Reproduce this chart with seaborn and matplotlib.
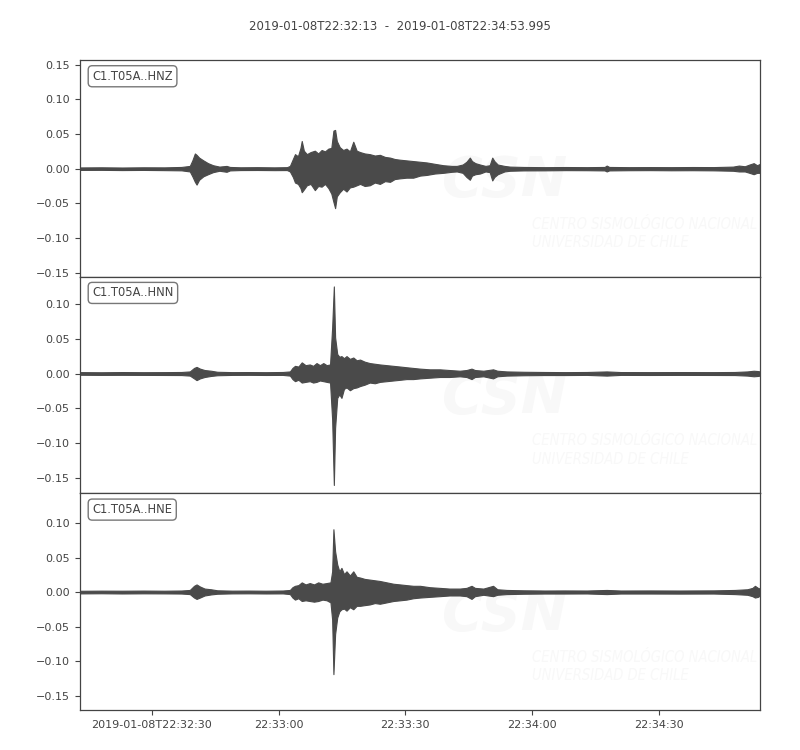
import numpy as np
import pandas as pd
import matplotlib
matplotlib.use("Agg")
import matplotlib.pyplot as plt
import seaborn as sns

# --- data (seconds after 2019-01-08T22:32:13, envelope) ---
start = np.datetime64("2019-01-08T22:32:13.000")
end = np.datetime64("2019-01-08T22:34:53.995")

hnz_t = [0, 5, 10, 15, 20, 24, 26, 26.6, 27.2, 27.6, 28.2, 29.2, 30.3, 31.5, 33, 34.7, 35.5,
         38, 42, 46, 49, 49.7, 50.4, 50.9, 51.6, 52.2, 52.5, 53.0, 53.7, 54.6, 55.6, 56.4,
         57.2, 58.0, 58.8, 59.5, 60.0, 60.4, 60.8, 61.5, 62.3, 63.1, 63.9, 64.7, 65.5, 66.3,
         67.4, 68.6, 69.8, 71.0, 72.2, 73.4, 74.5, 75.7, 77.3, 78.9, 80.5, 82.1, 84, 86.0,
         88, 89.2, 90.6, 91.5, 92.3, 92.8, 93.6, 94.7, 96, 97.0, 97.6, 98.1, 98.9, 100.5,
         101.8, 105, 110, 115, 120, 124.2, 124.7, 125.3, 130, 135, 140, 145, 150, 154.6,
         156, 157.4, 158.5, 159.5, 160.3, 161]
hnz_hi = [0.0018, 0.002, 0.0017, 0.002, 0.0019, 0.0025, 0.004, 0.012, 0.022, 0.020, 0.016,
          0.012, 0.008, 0.005, 0.003, 0.004, 0.0025, 0.002, 0.0022, 0.0019, 0.0022, 0.004,
          0.014, 0.021, 0.018, 0.030, 0.040, 0.026, 0.021, 0.024, 0.026, 0.022, 0.027, 0.025,
          0.029, 0.030, 0.055, 0.056, 0.040, 0.031, 0.027, 0.029, 0.025, 0.039, 0.026, 0.024,
          0.022, 0.021, 0.019, 0.020, 0.017, 0.016, 0.014, 0.013, 0.012, 0.011, 0.010, 0.009,
          0.007, 0.005, 0.004, 0.004, 0.006, 0.010, 0.016, 0.011, 0.008, 0.006, 0.004, 0.005,
          0.016, 0.011, 0.006, 0.004, 0.003, 0.0025, 0.0022, 0.0024, 0.0022, 0.0025, 0.0045,
          0.0025, 0.0022, 0.0023, 0.0022, 0.0024, 0.0023, 0.003, 0.0045, 0.0035, 0.006, 0.008,
          0.005, 0.007]
hnz_lo = [-0.0018, -0.0017, -0.002, -0.0018, -0.0021, -0.0024, -0.004, -0.011, -0.019,
          -0.023, -0.016, -0.011, -0.008, -0.005, -0.003, -0.0045, -0.0025, -0.002, -0.0019,
          -0.0021, -0.002, -0.004, -0.012, -0.020, -0.022, -0.028, -0.034, -0.030, -0.024,
          -0.022, -0.031, -0.025, -0.026, -0.022, -0.028, -0.036, -0.048, -0.057, -0.040,
          -0.034, -0.029, -0.033, -0.027, -0.026, -0.024, -0.022, -0.025, -0.024, -0.020,
          -0.022, -0.018, -0.019, -0.015, -0.014, -0.013, -0.013, -0.010, -0.009, -0.007,
          -0.006, -0.0045, -0.004, -0.006, -0.012, -0.016, -0.010, -0.008, -0.007, -0.004,
          -0.005, -0.017, -0.012, -0.008, -0.004, -0.003, -0.0025, -0.0024, -0.0021, -0.0022,
          -0.0025, -0.004, -0.0025, -0.0022, -0.0021, -0.0023, -0.0022, -0.0024, -0.003,
          -0.004, -0.004, -0.006, -0.008, -0.006, -0.006]

hnn_t = [0, 5, 10, 15, 20, 24, 26, 27, 27.6, 28.4, 29.5, 31, 32.5, 36, 40, 44, 48, 49.7,
         50.3, 50.9, 51.7, 52.5, 53.4, 54.4, 55.2, 56.0, 56.8, 57.6, 58.4, 59.2, 59.7, 60.1,
         60.4, 60.9, 61.4, 61.9, 62.5, 63.1, 63.9, 64.7, 65.5, 66.3, 67.4, 68.6, 69.8, 71.0,
         72.6, 74.2, 75.8, 77.3, 78.9, 80.5, 82.8, 85.2, 87.5, 89.9, 91.5, 92.7, 93.5, 95.5,
         97.8, 98.8, 101, 105, 110, 115, 120, 124.7, 128, 135, 142, 150, 155, 158, 159.5,
         160.5, 161]
hnn_hi = [0.002, 0.0018, 0.0021, 0.0019, 0.002, 0.0022, 0.003, 0.008, 0.0095, 0.007, 0.005,
          0.004, 0.0025, 0.002, 0.0021, 0.0019, 0.0022, 0.003, 0.008, 0.011, 0.010, 0.016,
          0.012, 0.013, 0.011, 0.015, 0.012, 0.015, 0.012, 0.013, 0.066, 0.125, 0.052, 0.028,
          0.024, 0.025, 0.022, 0.025, 0.021, 0.023, 0.019, 0.020, 0.017, 0.015, 0.014, 0.013,
          0.012, 0.011, 0.010, 0.009, 0.008, 0.007, 0.006, 0.006, 0.005, 0.004, 0.005, 0.007,
          0.005, 0.004, 0.006, 0.004, 0.003, 0.0025, 0.0022, 0.002, 0.0022, 0.003, 0.0021,
          0.002, 0.0021, 0.002, 0.0022, 0.003, 0.004, 0.0035, 0.003]
hnn_lo = [-0.0018, -0.002, -0.0019, -0.002, -0.0021, -0.0022, -0.003, -0.007, -0.0095,
          -0.007, -0.005, -0.0035, -0.0025, -0.002, -0.0019, -0.0021, -0.002, -0.003, -0.008,
          -0.011, -0.009, -0.013, -0.012, -0.011, -0.013, -0.012, -0.010, -0.011, -0.012,
          -0.013, -0.066, -0.160, -0.078, -0.035, -0.030, -0.035, -0.022, -0.020, -0.024,
          -0.021, -0.020, -0.018, -0.016, -0.013, -0.014, -0.012, -0.011, -0.010, -0.009,
          -0.008, -0.008, -0.007, -0.006, -0.005, -0.005, -0.004, -0.005, -0.008, -0.005,
          -0.004, -0.007, -0.004, -0.003, -0.0025, -0.0022, -0.0022, -0.002, -0.003, -0.002,
          -0.0021, -0.002, -0.0021, -0.0022, -0.003, -0.004, -0.0035, -0.003]

hne_t = [0, 5, 10, 15, 20, 24, 26, 27, 27.6, 28.4, 29.5, 31, 32.5, 36, 40, 44, 48, 49.7,
         50.3, 50.9, 51.7, 52.5, 53.4, 54.4, 55.4, 56.4, 57.4, 58.4, 59.3, 59.7, 60.0, 60.4,
         60.9, 61.4, 61.9, 62.5, 63.1, 63.9, 64.7, 65.5, 66.3, 67.4, 68.6, 69.8, 71.0, 72.6,
         74.2, 75.8, 77.3, 78.9, 80.5, 82.8, 85.2, 87.5, 89.9, 91.5, 92.7, 93.5, 95.5, 97.8,
         98.8, 101, 105, 110, 115, 120, 124.7, 128, 135, 142, 150, 155, 158, 159.2, 159.8,
         160.5, 161]
hne_hi = [0.0018, 0.002, 0.0019, 0.0021, 0.0019, 0.0022, 0.003, 0.009, 0.011, 0.008, 0.005,
          0.004, 0.0025, 0.002, 0.0021, 0.0019, 0.0022, 0.003, 0.007, 0.009, 0.010, 0.014,
          0.011, 0.013, 0.011, 0.014, 0.012, 0.013, 0.014, 0.030, 0.091, 0.059, 0.040, 0.030,
          0.035, 0.026, 0.030, 0.024, 0.030, 0.022, 0.021, 0.019, 0.018, 0.017, 0.016, 0.014,
          0.012, 0.011, 0.010, 0.009, 0.009, 0.007, 0.006, 0.005, 0.005, 0.006, 0.009, 0.006,
          0.005, 0.009, 0.004, 0.003, 0.0025, 0.0022, 0.0023, 0.0022, 0.003, 0.0022, 0.0023,
          0.0022, 0.0024, 0.003, 0.004, 0.006, 0.009, 0.006, 0.005]
hne_lo = [-0.002, -0.0018, -0.0021, -0.0019, -0.002, -0.0022, -0.003, -0.008, -0.010,
          -0.008, -0.005, -0.0035, -0.0025, -0.002, -0.0019, -0.0021, -0.002, -0.003, -0.008,
          -0.011, -0.009, -0.013, -0.012, -0.013, -0.014, -0.013, -0.011, -0.012, -0.015,
          -0.040, -0.119, -0.061, -0.037, -0.028, -0.025, -0.024, -0.027, -0.022, -0.025,
          -0.020, -0.020, -0.019, -0.018, -0.016, -0.017, -0.015, -0.013, -0.012, -0.011,
          -0.009, -0.008, -0.007, -0.006, -0.005, -0.005, -0.006, -0.010, -0.006, -0.004,
          -0.006, -0.004, -0.003, -0.0025, -0.0022, -0.0022, -0.0021, -0.003, -0.0022,
          -0.0022, -0.0023, -0.0022, -0.003, -0.004, -0.006, -0.008, -0.007, -0.005]

trace_ids = ["C1.T05A..HNZ", "C1.T05A..HNN", "C1.T05A..HNE"]
y_limits = [(-0.156, 0.157), (-0.172, 0.139), (-0.171, 0.143)]
y_ticks = [[-0.15, -0.10, -0.05, 0.00, 0.05, 0.10, 0.15],
           [-0.15, -0.10, -0.05, 0.00, 0.05, 0.10],
           [-0.15, -0.10, -0.05, 0.00, 0.05, 0.10]]
x_tick_times = ["2019-01-08T22:32:30", "2019-01-08T22:33:00", "2019-01-08T22:33:30",
                "2019-01-08T22:34:00", "2019-01-08T22:34:30"]
x_tick_labels = ["2019-01-08T22:32:30", "22:33:00", "22:33:30", "22:34:00", "22:34:30"]

traces = [(hnz_t, hnz_lo, hnz_hi), (hnn_t, hnn_lo, hnn_hi), (hne_t, hne_lo, hne_hi)]

# --- style ---
sns.set_style("ticks")
ink = "#444444"
wave = "#4a4a4a"
plt.rcParams["font.family"] = ["DejaVu Sans"]
plt.rcParams["text.color"] = ink
plt.rcParams["axes.edgecolor"] = ink
plt.rcParams["xtick.color"] = ink
plt.rcParams["ytick.color"] = ink

fig, axes = plt.subplots(3, 1, figsize=(8, 7.5), dpi=100, sharex=True)
fig.subplots_adjust(left=0.1, right=0.95, top=0.92, bottom=0.0533, hspace=0)


def to_time(secs):
    return start + (np.asarray(secs) * 1000).astype("timedelta64[ms]")


for ax, (t, lo, hi), tid, ylim, yt in zip(axes, traces, trace_ids, y_limits, y_ticks):
    # faint CSN watermark
    ax.text(0.625, 0.44, "CSN", transform=ax.transAxes, ha="center", va="center",
            fontsize=40, fontweight="bold", fontstyle="italic", color="#f8f8f8", zorder=0)
    ax.text(0.665, 0.2, "CENTRO SISMOLÓGICO NACIONAL\nUNIVERSIDAD DE CHILE",
            transform=ax.transAxes, ha="left", va="center", fontsize=10.5,
            fontstyle="italic", fontstretch="condensed", color="#f8f8f8",
            linespacing=1.3, zorder=0)

    x = to_time(t)
    ax.fill_between(x, lo, hi, color=wave, edgecolor=wave, lw=0.8, zorder=2)

    ax.set_ylim(*ylim)
    ax.set_yticks(yt)
    ax.set_yticklabels([f"{v:.2f}".replace("-", "\u2212") for v in yt])
    ax.tick_params(axis="both", labelsize=8, length=3.5, width=0.8)
    for s in ax.spines.values():
        s.set_linewidth(0.9)

    ax.text(0.018, 0.955, tid, transform=ax.transAxes, ha="left", va="top", fontsize=8.3,
            bbox=dict(boxstyle="round,pad=0.35", fc="white", ec="#777777", lw=1), zorder=5)

axes[-1].set_xlim(start, end)
axes[-1].set_xticks(pd.to_datetime(x_tick_times))
axes[-1].set_xticklabels(x_tick_labels)
for ax in axes[:-1]:
    ax.tick_params(axis="x", bottom=False, labelbottom=False)

fig.suptitle("2019-01-08T22:32:13  -  2019-01-08T22:34:53.995", y=0.973, fontsize=8.5,
             color=ink)

fig.savefig("out.png", dpi=100)
